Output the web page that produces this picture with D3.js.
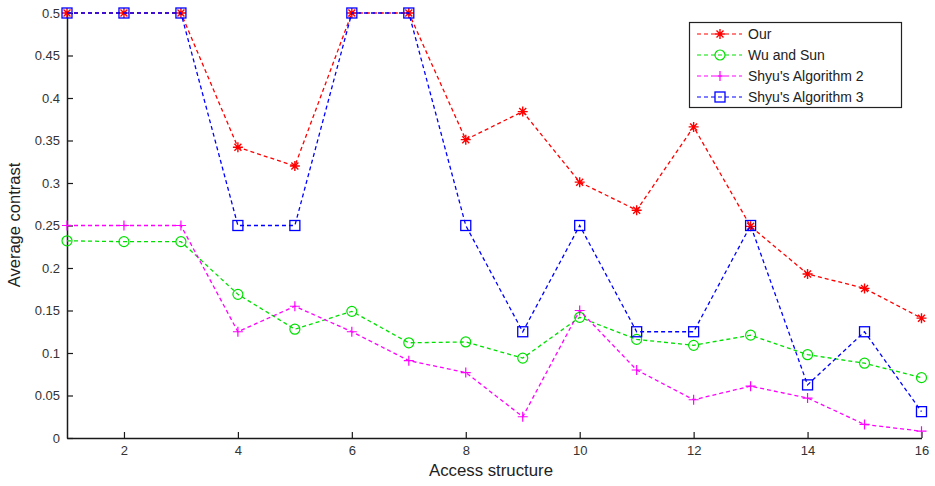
<!DOCTYPE html>
<html><head><meta charset="utf-8">
<script src="https://cdn.jsdelivr.net/npm/d3@7"></script>
<style>body{margin:0;background:#fff}svg{display:block}text{font-family:"Liberation Sans",Arial,sans-serif}</style>
</head><body>
<svg id="c" width="935" height="486"></svg>
<script>
const xValues = [1,2,3,4,5,6,7,8,9,10,11,12,13,14,15,16];
const ourValues = [0.5,0.5,0.5,0.342,0.32,0.5,0.5,0.351,0.384,0.301,0.268,0.366,0.249,0.193,0.176,0.141];
const wuSunValues = [0.232,0.231,0.231,0.169,0.128,0.149,0.112,0.113,0.094,0.142,0.116,0.109,0.121,0.098,0.088,0.071];
const shyu2Values = [0.25,0.25,0.25,0.125,0.155,0.125,0.091,0.077,0.025,0.15,0.08,0.045,0.061,0.047,0.016,0.008];
const shyu3Values = [0.5,0.5,0.5,0.25,0.25,0.5,0.5,0.25,0.125,0.25,0.125,0.125,0.25,0.0625,0.125,0.031];
const seriesNames = ["Our","Wu and Sun","Shyu's Algorithm 2","Shyu's Algorithm 3"];
const xTicks = [2,4,6,8,10,12,14,16];
const yTicks = [0,0.05,0.1,0.15,0.2,0.25,0.3,0.35,0.4,0.45,0.5];

const series = [
  {name: seriesNames[0], values: ourValues, color: "#ff0000", marker: "asterisk"},
  {name: seriesNames[1], values: wuSunValues, color: "#00e000", marker: "circle"},
  {name: seriesNames[2], values: shyu2Values, color: "#ff00ff", marker: "plus"},
  {name: seriesNames[3], values: shyu3Values, color: "#0000ff", marker: "square"}
];

const svg = d3.select("#c");
const x = d3.scaleLinear().domain([1,16]).range([67,921.5]);
const y = d3.scaleLinear().domain([0,0.5]).range([438,13]);

const xAxis = d3.axisBottom(x).tickValues(xTicks).tickSizeInner(-6).tickSizeOuter(0).tickPadding(8).tickFormat(d3.format("d"));
const yAxis = d3.axisLeft(y).tickValues(yTicks).tickSizeInner(-6).tickSizeOuter(0).tickPadding(7).tickFormat(d => d === 0 ? "0" : String(+d.toFixed(2)));

const gx = svg.append("g").attr("transform","translate(0,438)").call(xAxis);
const gy = svg.append("g").attr("transform","translate(67,0)").call(yAxis);
[gx, gy].forEach(g => {
  g.select(".domain").attr("stroke","#1a1a1a").attr("stroke-width",1.5);
  g.selectAll(".tick line").attr("stroke","#1a1a1a").attr("stroke-width",1.2);
  g.selectAll(".tick text").attr("fill","#333").style("font-size","13px").style("font-family","'Liberation Sans',Arial,sans-serif");
});

svg.append("text").attr("x",491).attr("y",476).attr("text-anchor","middle")
  .attr("fill","#222").style("font-size","16.8px").text("Access structure");
svg.append("text").attr("transform","translate(20,225) rotate(-90)").attr("text-anchor","middle")
  .attr("fill","#222").style("font-size","16.5px").text("Average contrast");

function drawMarker(g, type, cx, cy, color) {
  const s = 5;
  if (type === "circle") {
    g.append("circle").attr("cx",cx).attr("cy",cy).attr("r",s).attr("fill","none").attr("stroke",color).attr("stroke-width",1.2);
  } else if (type === "square") {
    g.append("rect").attr("x",cx-s).attr("y",cy-s).attr("width",2*s).attr("height",2*s).attr("fill","none").attr("stroke",color).attr("stroke-width",1.3);
  } else if (type === "plus") {
    g.append("path").attr("d",`M${cx-s},${cy}H${cx+s}M${cx},${cy-s}V${cy+s}`).attr("stroke",color).attr("stroke-width",1.2);
  } else {
    const d = s*0.7;
    g.append("path").attr("d",`M${cx-s},${cy}H${cx+s}M${cx},${cy-s}V${cy+s}M${cx-d},${cy-d}L${cx+d},${cy+d}M${cx-d},${cy+d}L${cx+d},${cy-d}`)
      .attr("stroke",color).attr("stroke-width",1.4);
  }
}

const line = d3.line().x((d,i) => x(xValues[i])).y(d => y(d));
series.forEach(s => {
  const g = svg.append("g");
  g.append("path").datum(s.values).attr("d",line).attr("fill","none")
    .attr("stroke",s.color).attr("stroke-width",1.3).attr("stroke-dasharray","4,3");
  s.values.forEach((v,i) => drawMarker(g, s.marker, x(xValues[i]), y(v), s.color));
});

const lg = svg.append("g");
lg.append("rect").attr("x",689.5).attr("y",22.5).attr("width",212).attr("height",85)
  .attr("fill","#fff").attr("stroke","#222").attr("stroke-width",1.2);
series.forEach((s,i) => {
  const ly = 34 + i*21;
  lg.append("line").attr("x1",697).attr("x2",742).attr("y1",ly).attr("y2",ly)
    .attr("stroke",s.color).attr("stroke-width",1.2).attr("stroke-dasharray","4,3");
  drawMarker(lg, s.marker, 720, ly, s.color);
  lg.append("text").attr("x",748).attr("y",ly+5).attr("fill","#222").style("font-size","14px").text(s.name);
});
</script>
</body></html>
